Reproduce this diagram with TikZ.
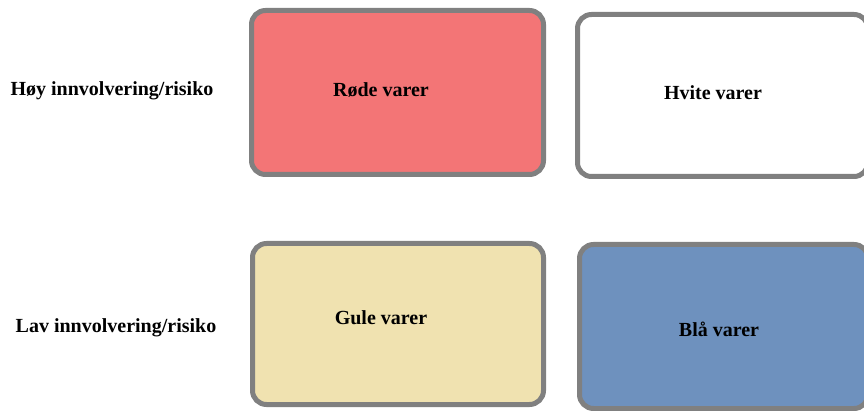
\documentclass[tikz,border=0pt]{standalone}
\usepackage{fontspec}
\setmainfont{Liberation Serif}
\definecolor{boxred}{RGB}{243,117,118}
\definecolor{boxyellow}{RGB}{240,226,176}
\definecolor{boxblue}{RGB}{110,145,190}
\definecolor{boxgray}{RGB}{128,128,128}
\tikzset{
  cat/.style={draw=boxgray, line width=5pt, rounded corners=14pt},
  lbl/.style={font=\fontsize{20}{24}\selectfont\bfseries, inner sep=0pt, anchor=center},
}
\begin{document}
\begin{tikzpicture}[x=1pt,y=-1pt]
\useasboundingbox (0,0) rectangle (864,411);
\fill[white] (0,0) rectangle (864,411);
% boxes
\draw[cat, fill=boxred] (251.5,10.5) rectangle (543.5,174.5);
\draw[cat, fill=white] (577.5,14.5) rectangle (868,176.5);
\draw[cat, fill=boxyellow] (252.5,243.5) rectangle (543.5,404.5);
\draw[cat, fill=boxblue] (579.5,244.5) rectangle (868,408.5);
% labels
\node[lbl] (rode) at (381,90) {Røde varer};
\node[lbl] (hvite) at (713,93) {Hvite varer};
\node[lbl] (gule) at (381,318) {Gule varer};
\node[lbl] (bla) at (719,329) {Blå varer};
\node[lbl] (hoy) at (112,91) {Høy innvolvering/risiko};
\node[lbl] (lav) at (116,328) {Lav innvolvering/risiko};
\end{tikzpicture}
\end{document}
